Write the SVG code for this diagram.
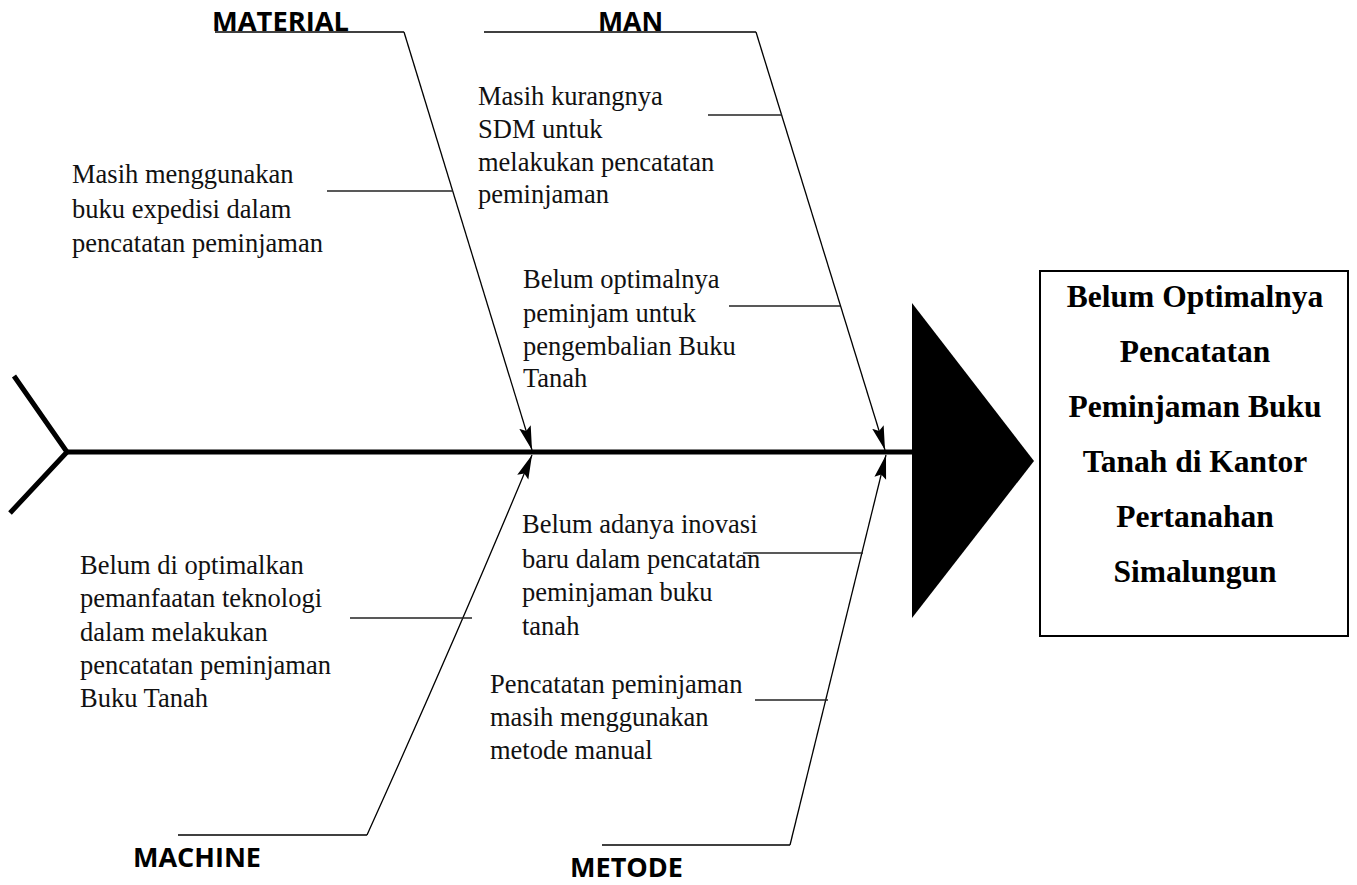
<svg xmlns="http://www.w3.org/2000/svg" width="1357" height="885" viewBox="0 0 1357 885">
<style>
.cause{font-family:"Liberation Serif","Times New Roman",serif;font-size:26.5px;fill:#111}
.cat{font-family:"Open Sans","Liberation Sans",sans-serif;font-weight:bold;font-size:27px;fill:#000}
.eff{font-family:"Liberation Serif","Times New Roman",serif;font-weight:bold;font-size:31.5px;fill:#000;text-anchor:middle}
.bone{fill:none;stroke:#000;stroke-width:1.3}
.sub{fill:none;stroke:#222;stroke-width:1.6}
.spine{fill:none;stroke:#000;stroke-width:5}
</style>
<defs>
<marker id="ah" markerUnits="userSpaceOnUse" markerWidth="26" markerHeight="14" refX="24" refY="7" orient="auto">
<path d="M0,1 L24,7 L0,13 L4,7 Z" fill="#000"/>
</marker>
</defs>
<rect width="1357" height="885" fill="#fff"/>
<g id="connectors">
<polyline class="spine" points="14,376 67,452 10,513"/>
<line class="spine" x1="66" y1="452" x2="914" y2="452"/>
<line class="bone" x1="215" y1="32" x2="404" y2="32"/>
<path class="bone" d="M404,32 L532,450" marker-end="url(#ah)"/>
<line class="bone" x1="484" y1="32" x2="756" y2="32"/>
<path class="bone" d="M756,32 L885,450" marker-end="url(#ah)"/>
<line class="bone" x1="178" y1="835" x2="367" y2="835"/>
<path class="bone" d="M367,835 Q455,640 532,455" marker-end="url(#ah)"/>
<line class="bone" x1="602" y1="845" x2="790" y2="845"/>
<path class="bone" d="M790,845 L886,455" marker-end="url(#ah)"/>
<line class="sub" x1="327" y1="191" x2="453" y2="191"/>
<line class="sub" x1="708" y1="115" x2="782" y2="115"/>
<line class="sub" x1="729" y1="306" x2="840" y2="306"/>
<line class="sub" x1="350" y1="618" x2="472" y2="618"/>
<line class="sub" x1="743" y1="553" x2="863" y2="553"/>
<line class="sub" x1="755" y1="700" x2="828" y2="700"/>
</g>
<g id="head">
<polygon points="912,303 1034,461 912,618" fill="#000"/>
</g>
<g id="effect">
<rect x="1040" y="271" width="308" height="365" fill="#fff" stroke="#000" stroke-width="2"/>
<text class="eff" x="1195" y="307">Belum Optimalnya</text>
<text class="eff" x="1195" y="362">Pencatatan</text>
<text class="eff" x="1195" y="417">Peminjaman Buku</text>
<text class="eff" x="1195" y="472">Tanah di Kantor</text>
<text class="eff" x="1195" y="527">Pertanahan</text>
<text class="eff" x="1195" y="582">Simalungun</text>
</g>
<g id="cat-material"><text class="cat" x="212" y="31" textLength="137" lengthAdjust="spacingAndGlyphs">MATERIAL</text></g>
<g id="cat-man"><text class="cat" x="598" y="31" textLength="65" lengthAdjust="spacingAndGlyphs">MAN</text></g>
<g id="cat-machine"><text class="cat" x="133" y="867" textLength="128" lengthAdjust="spacingAndGlyphs">MACHINE</text></g>
<g id="cat-metode"><text class="cat" x="570" y="877" font-size="26" textLength="113" lengthAdjust="spacingAndGlyphs">METODE</text></g>
<g id="cause-material">
<text class="cause" x="72" y="183">Masih menggunakan</text>
<text class="cause" x="72" y="218">buku expedisi dalam</text>
<text class="cause" x="72" y="252">pencatatan peminjaman</text>
</g>
<g id="cause-man-1">
<text class="cause" x="478" y="105">Masih kurangnya</text>
<text class="cause" x="478" y="138">SDM untuk</text>
<text class="cause" x="478" y="171">melakukan pencatatan</text>
<text class="cause" x="478" y="203">peminjaman</text>
</g>
<g id="cause-man-2">
<text class="cause" x="523" y="288">Belum optimalnya</text>
<text class="cause" x="523" y="322">peminjam untuk</text>
<text class="cause" x="523" y="355">pengembalian Buku</text>
<text class="cause" x="523" y="387">Tanah</text>
</g>
<g id="cause-machine">
<text class="cause" x="80" y="574">Belum di optimalkan</text>
<text class="cause" x="80" y="607">pemanfaatan teknologi</text>
<text class="cause" x="80" y="641">dalam melakukan</text>
<text class="cause" x="80" y="674">pencatatan peminjaman</text>
<text class="cause" x="80" y="707">Buku Tanah</text>
</g>
<g id="cause-metode-1">
<text class="cause" x="522" y="533">Belum adanya inovasi</text>
<text class="cause" x="522" y="568">baru dalam pencatatan</text>
<text class="cause" x="522" y="601">peminjaman buku</text>
<text class="cause" x="522" y="635">tanah</text>
</g>
<g id="cause-metode-2">
<text class="cause" x="490" y="693">Pencatatan peminjaman</text>
<text class="cause" x="490" y="726">masih menggunakan</text>
<text class="cause" x="490" y="759">metode manual</text>
</g>
</svg>
